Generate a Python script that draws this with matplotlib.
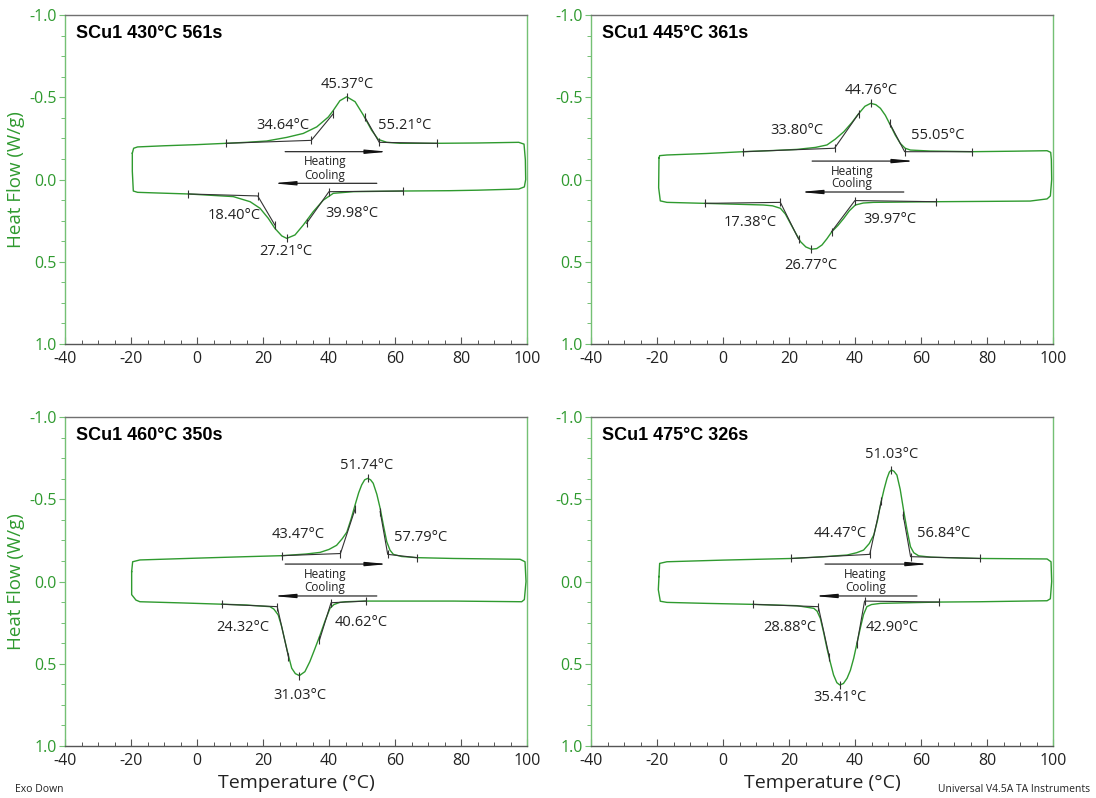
import matplotlib.pyplot as plt
from matplotlib.ticker import MultipleLocator, FormatStrFormatter

plt.rcParams['axes.unicode_minus'] = False
plt.rcParams['font.family'] = ['Open Sans', 'DejaVu Sans']

GREEN = '#2f9a2f'
SPINE_GREEN = '#74c074'
INK = '#222222'

# ---------------- SCu1 430°C 561s ----------------
a_heat_T = [-19.6, -19.2, -18.0, -10.0, 0.0, 8.8, 15.0, 21.1, 27.2, 32.2, 36.3, 39.8, 41.3,
            43.3, 45.37, 47.9, 50.4, 52.9, 54.9, 57.5, 61.5, 72.6, 85.0, 97.5, 99.1]
a_heat_HF = [-0.16, -0.19, -0.198, -0.205, -0.212, -0.22, -0.226, -0.234, -0.256, -0.28, -0.32,
             -0.38, -0.42, -0.479, -0.503, -0.473, -0.392, -0.30, -0.244, -0.226, -0.22, -0.22,
             -0.222, -0.226, -0.215]
a_cool_T = [99.5, 99.6, 99.2, 97.5, 85.0, 76.7, 62.5, 47.4, 41.3, 38.3, 35.2, 32.2, 29.7,
            27.21, 25.7, 23.6, 21.6, 19.1, 16.1, 11.0, -2.6, -12.0, -18.0, -19.3, -19.6]
a_cool_HF = [-0.12, 0.0, 0.045, 0.058, 0.065, 0.068, 0.07, 0.074, 0.084, 0.125, 0.196, 0.277,
             0.337, 0.358, 0.343, 0.297, 0.236, 0.175, 0.135, 0.104, 0.088, 0.082, 0.078, 0.07,
             -0.05]
# baseline tick -> onset -> tangent end ; tangent start -> endset -> baseline tick
a_hon_T, a_hon_HF = [8.8, 34.64, 41.3], [-0.22, -0.238, -0.40]
a_hend_T, a_hend_HF = [50.9, 55.21, 72.6], [-0.378, -0.226, -0.22]
a_hpeak = (45.37, -0.503)
a_con_T, a_con_HF = [62.5, 39.98, 33.2], [0.07, 0.074, 0.266]
a_cend_T, a_cend_HF = [23.6, 18.40, -2.6], [0.277, 0.10, 0.088]
a_cpeak = (27.21, 0.358)

# ---------------- SCu1 445°C 361s ----------------
b_heat_T = [-19.4, -19.2, -17.0, -5.0, 6.1, 15.0, 22.4, 28.0, 31.5, 34.0, 36.6, 39.0, 41.1,
            43.0, 44.76, 46.3, 47.7, 49.2, 50.7, 52.2, 53.7, 55.2, 56.8, 62.8, 75.5, 88.0,
            98.2, 99.3]
b_heat_HF = [-0.13, -0.145, -0.149, -0.158, -0.169, -0.176, -0.183, -0.195, -0.21, -0.245,
             -0.29, -0.345, -0.40, -0.445, -0.463, -0.455, -0.433, -0.39, -0.331, -0.27, -0.22,
             -0.19, -0.179, -0.173, -0.169, -0.172, -0.175, -0.165]
b_cool_T = [99.5, 99.6, 99.2, 98.2, 93.1, 80.0, 64.6, 45.6, 42.5, 40.1, 38.3, 36.6, 34.8, 33.0,
            31.5, 30.0, 28.4, 26.77, 25.1, 23.5, 22.0, 20.4, 18.9, 17.4, 15.0, 12.3, -5.5,
            -17.0, -19.0, -19.5]
b_cool_HF = [-0.12, 0.0, 0.1, 0.118, 0.131, 0.133, 0.135, 0.139, 0.143, 0.155, 0.19, 0.236,
             0.28, 0.317, 0.36, 0.398, 0.42, 0.424, 0.41, 0.378, 0.325, 0.266, 0.21, 0.175,
             0.16, 0.155, 0.145, 0.139, 0.13, 0.05]
b_hon_T, b_hon_HF = [6.1, 33.80, 41.1], [-0.169, -0.19, -0.40]
b_hend_T, b_hend_HF = [50.5, 55.05, 75.5], [-0.342, -0.169, -0.169]
b_hpeak = (44.76, -0.463)
b_con_T, b_con_HF = [64.6, 39.97, 32.9], [0.135, 0.128, 0.317]
b_cend_T, b_cend_HF = [22.9, 17.38, -5.5], [0.362, 0.139, 0.145]
b_cpeak = (26.77, 0.424)

# ---------------- SCu1 460°C 350s ----------------
c_heat_T = [-19.8, -19.5, -17.3, 0.0, 15.0, 25.7, 33.0, 37.3, 40.0, 42.3, 44.0, 45.4, 46.7,
            47.9, 49.0, 49.9, 50.8, 51.74, 52.6, 53.4, 54.5, 55.5, 56.5, 57.5, 58.5, 59.5,
            62.0, 66.6, 77.7, 97.9, 99.4]
c_heat_HF = [-0.06, -0.12, -0.131, -0.142, -0.151, -0.157, -0.167, -0.177, -0.195, -0.22,
             -0.26, -0.30, -0.38, -0.465, -0.54, -0.587, -0.618, -0.627, -0.618, -0.597, -0.53,
             -0.445, -0.34, -0.242, -0.19, -0.165, -0.152, -0.145, -0.14, -0.135, -0.12]
c_cool_T = [99.7, 99.2, 98.4, 77.7, 51.2, 45.0, 43.3, 41.5, 40.3, 38.8, 37.3, 35.7, 34.2, 32.7,
            31.03, 29.8, 28.7, 27.7, 26.7, 25.6, 24.6, 23.3, 22.1, 15.0, 7.5, -5.0, -17.3,
            -18.5, -19.8]
c_cool_HF = [0.0, 0.11, 0.123, 0.119, 0.119, 0.123, 0.127, 0.14, 0.163, 0.24, 0.325, 0.41,
             0.487, 0.548, 0.572, 0.56, 0.527, 0.45, 0.365, 0.27, 0.203, 0.168, 0.153, 0.143,
             0.138, 0.13, 0.123, 0.113, 0.08]
c_hon_T, c_hon_HF = [25.7, 43.47, 47.9], [-0.157, -0.17, -0.44]
c_hend_T, c_hend_HF = [55.5, 57.79, 66.6], [-0.425, -0.165, -0.145]
c_hpeak = (51.74, -0.627)
c_con_T, c_con_HF = [51.2, 40.62, 37.1], [0.119, 0.129, 0.357]
c_cend_T, c_cend_HF = [27.7, 24.32, 7.5], [0.457, 0.153, 0.138]
c_cpeak = (31.03, 0.572)

# ---------------- SCu1 475°C 326s ----------------
d_heat_T = [-19.4, -19.2, -17.0, 0.0, 20.7, 30.0, 37.6, 40.5, 42.6, 44.3, 45.7, 46.8, 47.7,
            48.8, 49.7, 50.4, 51.03, 51.8, 52.7, 53.7, 54.8, 55.8, 56.8, 57.8, 59.3, 63.0,
            67.9, 78.0, 98.2, 99.4]
d_heat_HF = [-0.03, -0.11, -0.12, -0.13, -0.14, -0.15, -0.161, -0.175, -0.191, -0.23, -0.283,
             -0.37, -0.465, -0.56, -0.627, -0.665, -0.678, -0.67, -0.647, -0.56, -0.424, -0.31,
             -0.212, -0.175, -0.156, -0.148, -0.145, -0.14, -0.137, -0.12]
d_cool_T = [99.6, 99.2, 98.2, 78.0, 65.4, 47.7, 45.0, 43.6, 42.6, 41.6, 40.6, 39.6, 38.6, 37.6,
            36.5, 35.41, 34.5, 33.5, 32.5, 31.5, 30.5, 29.5, 28.5, 27.5, 22.4, 9.1, -5.0, -17.0,
            -19.0, -19.6]
d_cool_HF = [0.0, 0.105, 0.117, 0.123, 0.125, 0.133, 0.14, 0.153, 0.2, 0.284, 0.375, 0.467,
             0.54, 0.588, 0.62, 0.629, 0.615, 0.568, 0.49, 0.406, 0.31, 0.224, 0.18, 0.163,
             0.147, 0.139, 0.133, 0.127, 0.12, 0.05]
d_hon_T, d_hon_HF = [20.7, 44.47, 48.0], [-0.14, -0.165, -0.49]
d_hend_T, d_hend_HF = [54.6, 56.84, 78.0], [-0.404, -0.151, -0.14]
d_hpeak = (51.03, -0.678)
d_con_T, d_con_HF = [65.4, 42.90, 40.6], [0.125, 0.119, 0.379]
d_cend_T, d_cend_HF = [32.2, 28.88, 9.1], [0.457, 0.153, 0.139]
d_cpeak = (35.41, 0.629)

titles = ['SCu1 430°C 561s', 'SCu1 445°C 361s', 'SCu1 460°C 350s', 'SCu1 475°C 326s']

# label spots (data coords): heat peak, heat onset, heat end, cool end, cool onset, cool peak
label_spots = [
    [(45.5, -0.58), (26.1, -0.327), (63.0, -0.327), (11.2, 0.216), (47.0, 0.206), (27.0, 0.44)],
    [(44.8, -0.544), (22.4, -0.30), (65.2, -0.266), (8.2, 0.264), (50.6, 0.246), (26.7, 0.52)],
    [(51.5, -0.708), (30.6, -0.283), (67.9, -0.27), (13.9, 0.277), (49.7, 0.252), (31.2, 0.69)],
    [(51.2, -0.769), (35.5, -0.289), (67.0, -0.289), (20.3, 0.277), (51.2, 0.277), (35.5, 0.708)],
]
# heating arrow x-range / y, cooling arrow x-range / y
arrow_spots = [
    ((26.7, 57.9), -0.169, (54.5, 23.0), 0.023),
    ((27.0, 58.2), -0.112, (54.8, 23.3), 0.076),
    ((26.7, 57.9), -0.106, (54.5, 23.0), 0.088),
    ((30.9, 62.4), -0.106, (58.8, 27.6), 0.088),
]

panels = [
    (a_heat_T, a_heat_HF, a_cool_T, a_cool_HF, a_hon_T, a_hon_HF, a_hend_T, a_hend_HF, a_hpeak,
     a_con_T, a_con_HF, a_cend_T, a_cend_HF, a_cpeak),
    (b_heat_T, b_heat_HF, b_cool_T, b_cool_HF, b_hon_T, b_hon_HF, b_hend_T, b_hend_HF, b_hpeak,
     b_con_T, b_con_HF, b_cend_T, b_cend_HF, b_cpeak),
    (c_heat_T, c_heat_HF, c_cool_T, c_cool_HF, c_hon_T, c_hon_HF, c_hend_T, c_hend_HF, c_hpeak,
     c_con_T, c_con_HF, c_cend_T, c_cend_HF, c_cpeak),
    (d_heat_T, d_heat_HF, d_cool_T, d_cool_HF, d_hon_T, d_hon_HF, d_hend_T, d_hend_HF, d_hpeak,
     d_con_T, d_con_HF, d_cend_T, d_cend_HF, d_cpeak),
]

fig = plt.figure(figsize=(10.96, 7.98), dpi=100)
W, H = 1096, 798
boxes = [(65, 344), (591, 344), (65, 746), (591, 746)]

for i, (box, panel) in enumerate(zip(boxes, panels)):
    (hT, hH, cT, cH, honT, honH, hendT, hendH, hpk,
     conT, conH, cendT, cendH, cpk) = panel
    x0, ybot = box
    ax = fig.add_axes([x0 / W, (H - ybot) / H, 462 / W, 329 / H])

    # thermogram loop: heating then cooling, closed at both isotherms
    loop_T = hT + cT + [hT[0]]
    loop_H = hH + cH + [hH[0]]
    ax.plot(loop_T, loop_H, color=GREEN, lw=1.0, zorder=3)

    # onset / endset constructions
    for tx, ty in [(honT, honH), (hendT, hendH), (conT, conH), (cendT, cendH)]:
        ax.plot(tx, ty, color='#333333', lw=0.8, zorder=4)
        ax.plot(tx, ty, ls='none', marker='|', ms=6, mew=0.8, color='#333333', zorder=4)
    for pk in (hpk, cpk):
        ax.plot([pk[0]], [pk[1]], ls='none', marker='|', ms=6, mew=0.8, color='#333333',
                zorder=4)

    spots = label_spots[i]
    values = [hpk[0], honT[1], hendT[1], cendT[1], conT[1], cpk[0]]
    for (lx, ly), v in zip(spots, values):
        ax.text(lx, ly, f'{v:.2f}°C', ha='center', va='center', fontsize=10.5, color=INK)

    (hx0, hx1), hy, (cx0, cx1), cy = arrow_spots[i]
    arrow = dict(arrowstyle='-|>,head_length=1.3,head_width=0.12', lw=0.8, color='#111111',
                 shrinkA=0, shrinkB=0)
    ax.annotate('', xy=(hx1, hy), xytext=(hx0, hy), arrowprops=arrow)
    ax.annotate('', xy=(cx1, cy), xytext=(cx0, cy), arrowprops=arrow)
    mid = (hx0 + hx1) / 2 - 3.5
    ax.text(mid, hy + 0.062, 'Heating', ha='center', va='center', fontsize=8.5, color=INK)
    ax.text(mid, cy - 0.05, 'Cooling', ha='center', va='center', fontsize=8.5, color=INK)

    ax.text(0.024, 0.945, titles[i], transform=ax.transAxes, ha='left', va='center',
            fontsize=13, fontweight='bold', family='Liberation Sans', color='black')

    ax.set_xlim(-40, 100)
    ax.set_ylim(1.0, -1.0)
    ax.xaxis.set_major_locator(MultipleLocator(20))
    ax.xaxis.set_minor_locator(MultipleLocator(5))
    ax.yaxis.set_major_locator(MultipleLocator(0.5))
    ax.yaxis.set_minor_locator(MultipleLocator(0.125))
    ax.yaxis.set_major_formatter(FormatStrFormatter('%.1f'))

    ax.tick_params(axis='x', which='major', direction='in', length=5, width=0.8,
                   colors='#555555', labelcolor=INK, labelsize=11.5, pad=5)
    ax.tick_params(axis='x', which='minor', direction='in', length=3, width=0.7,
                   colors='#555555')
    ax.tick_params(axis='y', which='major', direction='out', length=4, width=0.8,
                   colors=SPINE_GREEN, labelcolor=GREEN, labelsize=11.5, pad=2)
    ax.tick_params(axis='y', which='minor', direction='out', length=3, width=0.7,
                   colors=SPINE_GREEN)

    ax.spines['left'].set_color(SPINE_GREEN)
    ax.spines['right'].set_color(SPINE_GREEN)
    ax.spines['top'].set_color('#707070')
    ax.spines['bottom'].set_color('#555555')
    for s in ax.spines.values():
        s.set_linewidth(1.0)

    if i % 2 == 0:
        ax.set_ylabel('Heat Flow (W/g)', color=GREEN, fontsize=13.5, labelpad=3)
    if i >= 2:
        ax.set_xlabel('Temperature (°C)', color=INK, fontsize=14, labelpad=4)

fig.text(15 / W, 1 - 790 / H, 'Exo Down', ha='left', va='center', fontsize=7.5, color=INK)
fig.text(1090 / W, 1 - 790 / H, 'Universal V4.5A TA Instruments', ha='right', va='center',
         fontsize=7.5, color=INK)

fig.savefig('out.png', dpi=100)
